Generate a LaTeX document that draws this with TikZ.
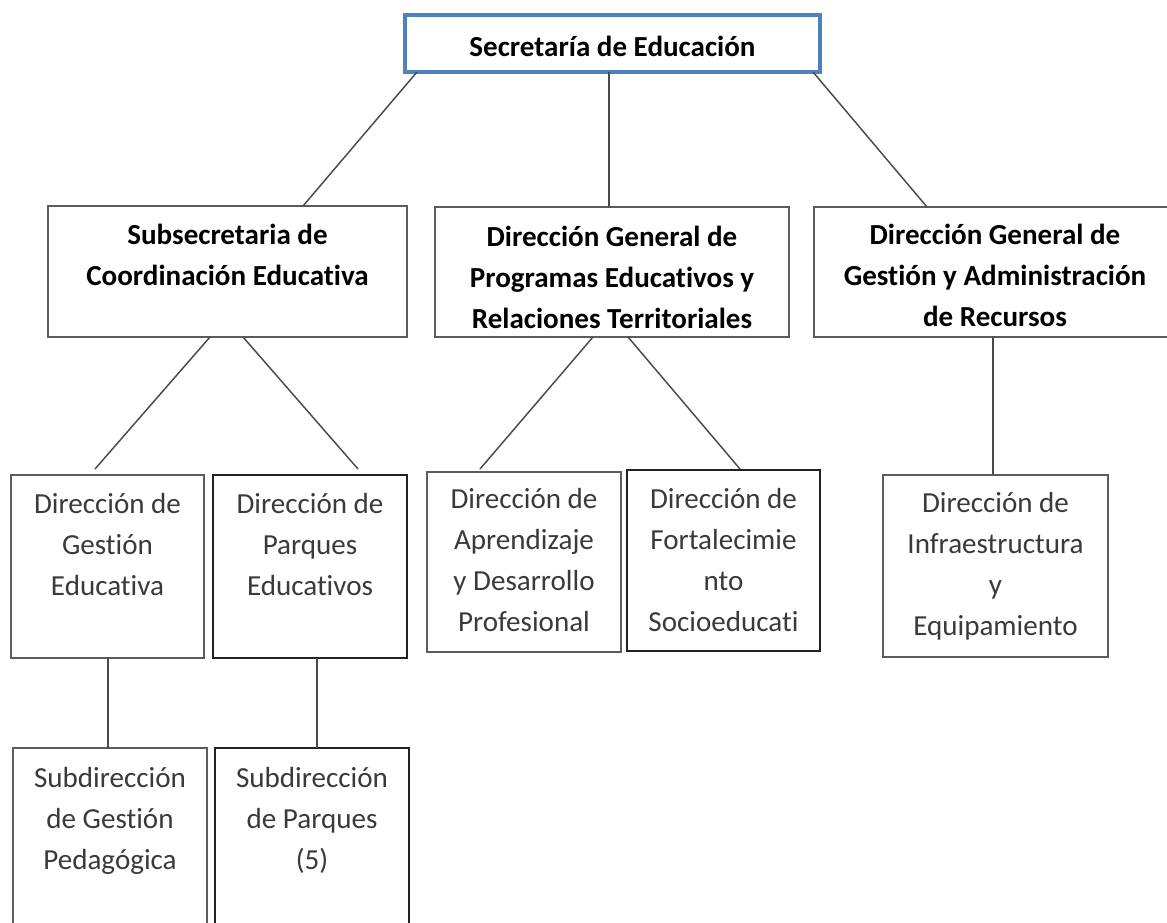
\documentclass[tikz,border=0pt]{standalone}
\usepackage{fontspec}
\setmainfont{Carlito}[Ligatures={NoCommon}]
\usetikzlibrary{calc}
\newdimen\pxu \pxu=0.75pt
\definecolor{topblue}{HTML}{4F81BD}
\definecolor{edgegray}{HTML}{5C5C5C}
\definecolor{edgedark}{HTML}{222222}
\definecolor{linegray}{HTML}{4A4A4A}
\definecolor{softtext}{HTML}{3A3A3A}
% width, height, first baseline, text
\newcommand\orgtxt[4]{\parbox[t][#2\pxu][t]{#1\pxu}{\centering\rule{0pt}{#3\pxu}\ignorespaces#4\par}}
\tikzset{
  orgbox/.style={draw=edgegray, line width=1.5pt, inner sep=0pt, outer sep=0pt, anchor=north west, fill=white},
  darkbox/.style={orgbox, draw=edgedark},
  topbox/.style={orgbox, draw=topblue, line width=3pt},
  headfont/.style={font=\fontsize{21.8pt}{30.75pt}\selectfont\bfseries, text=black},
  unitfont/.style={font=\fontsize{21.8pt}{30.75pt}\selectfont, text=softtext},
  link/.style={draw=linegray, line width=1.1pt},
}
\begin{document}
\begin{tikzpicture}[x=0.75pt, y=-0.75pt]
\useasboundingbox (0,0) rectangle (1167,923);
\fill[white] (0,0) rectangle (1167,923);
\clip (0,0) rectangle (1167,923);

\node[topbox, headfont] (T) at (405,15) {\orgtxt{415}{57}{42}{Secretaría de Educación}};

\node[orgbox, headfont] (A) at (48,206) {\orgtxt{359}{131}{39}{Subsecretaria de\\Coordinación Educativa}};
\node[orgbox, headfont] (B) at (435,207) {\orgtxt{354}{130}{40}{Dirección General de\\Programas Educativos y\\Relaciones Territoriales}};
\node[orgbox, headfont] (C) at (814,207) {\orgtxt{362}{130}{38}{Dirección General de\\Gestión y Administración\\de Recursos}};

\node[orgbox, unitfont] (D1) at (11,475) {\orgtxt{193}{183}{38}{Dirección de\\Gestión\\Educativa}};
\node[darkbox, unitfont] (D2) at (213,475) {\orgtxt{194}{183}{38}{Dirección de\\Parques\\Educativos}};
\node[orgbox, unitfont] (D3) at (427,472) {\orgtxt{194}{180}{36}{Dirección de\\Aprendizaje\\y Desarrollo\\Profesional}};
\node[darkbox, unitfont] (D4) at (627,470) {\orgtxt{193}{181}{38}{Dirección de\\Fortalecimie\\nto\\Socioeducati}};
\node[orgbox, unitfont] (D5) at (883,475) {\orgtxt{225}{182}{37}{Dirección de\\Infraestructura\\y\\Equipamiento}};

\node[orgbox, unitfont] (S1) at (13,748) {\orgtxt{194}{200}{39}{Subdirección\\de Gestión\\Pedagógica}};
\node[darkbox, unitfont] (S2) at (215,748) {\orgtxt{194}{200}{39}{Subdirección\\de Parques\\(5)}};

\draw[link] ($(T.south west)+(12,0)$) -- ($(A.north west)+(255,0)$);
\draw[link] ($(T.south west)+(204,0)$) -- ($(B.north west)+(174,0)$);
\draw[link] ($(T.south east)+(-7,0)$) -- ($(C.north west)+(113,0)$);

\draw[link] ($(A.south west)+(162,0)$) -- ($(D1.north west)+(84,-6)$);
\draw[link] ($(A.south west)+(195,0)$) -- ($(D2.north west)+(145,-6)$);
\draw[link] ($(B.south west)+(158,0)$) -- ($(D3.north west)+(53,-3)$);
\draw[link] ($(B.south west)+(193,0)$) -- ($(D4.north west)+(113,-1)$);
\draw[link] ($(C.south west)+(179,0)$) -- ($(D5.north west)+(110,0)$);

\draw[link] ($(D1.south west)+(97,0)$) -- ($(S1.north west)+(95,0)$);
\draw[link] ($(D2.south west)+(104,0)$) -- ($(S2.north west)+(102,0)$);
\end{tikzpicture}
\end{document}
